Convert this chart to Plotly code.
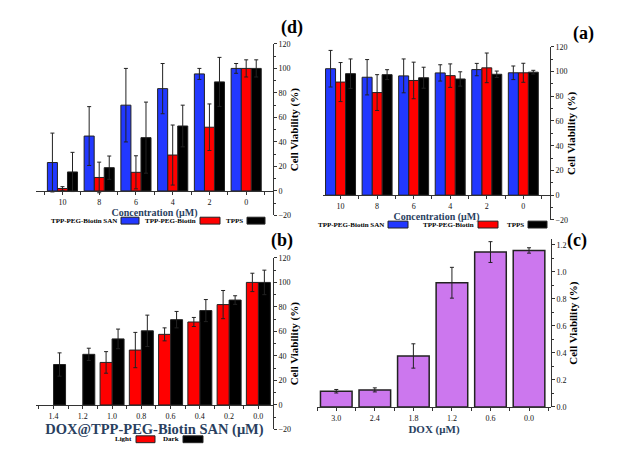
import plotly.graph_objects as go

# === Data ===
conc_labels = ["0", "2", "4", "6", "8", "10"]

# panel top-left
tl_tpps = [100, 89, 53, 43.5, 19, 15.5]
tl_tpps_err = [7, 20, 17, 29, 9.5, 16]
tl_peg = [100, 52, 29.3, 15.2, 11, 2]
tl_peg_err = [7, 19, 24.5, 13.5, 12.5, 1.5]
tl_san = [100, 95.5, 83.5, 70, 44.8, 23.2]
tl_san_err = [4, 4.5, 20.5, 30, 24, 24]

# panel top-right
tr_tpps = [99.5, 97.8, 94, 95, 97.5, 98.3]
tr_tpps_err = [1.5, 2.6, 5.8, 8.5, 4, 11.9]
tr_peg = [99, 103, 96.7, 92.8, 83, 91.5]
tr_peg_err = [7.7, 12, 9.5, 14.8, 14.5, 15.8]
tr_san = [99, 101.6, 98.9, 96.5, 95.4, 102.3]
tr_san_err = [5.5, 5, 6.6, 13.7, 14.3, 14.8]

# panel bottom-left
san_dose_labels = ["0.0", "0.2", "0.4", "0.6", "0.8", "1.0", "1.2", "1.4"]
dark = [100, 85.6, 77, 69.6, 60.5, 53.9, 41.3, 33]
dark_err = [10, 3.5, 9, 6.7, 12.8, 8, 5, 9.5]
light = [100, 81.9, 67.7, 57.6, 44.8, 34.7, None, None]
light_err = [7.5, 11.5, 3.7, 5.3, 14.4, 8.8, 0, 0]

# panel bottom-right
dox_labels = ["0.0", "0.6", "1.2", "1.8", "2.4", "3.0"]
dox = [1.158, 1.146, 0.919, 0.377, 0.126, 0.116]
dox_err = [0.02, 0.077, 0.114, 0.09, 0.015, 0.013]

W, H = 631, 457
FONT = "Liberation Serif"
BLUE, RED, BLACK, VIOLET = "#2238ff", "#ff0000", "#000000", "#cc77ee"


def px_x(v):
    return v / W


def px_y(v):
    return 1 - v / H


fig = go.Figure()


def add_bars(xa, ya, values, errs, color, name, width=1):
    fig.add_trace(go.Bar(
        x=list(range(len(values))), y=values,
        error_y=dict(type="data", array=errs, color="#222", thickness=1, width=2),
        marker=dict(color=color, line=dict(color="#222", width=width)),
        name=name, xaxis=xa, yaxis=ya, showlegend=False,
    ))


add_bars("x", "y", tl_tpps, tl_tpps_err, BLACK, "TPPS")
add_bars("x", "y", tl_peg, tl_peg_err, RED, "TPP-PEG-Biotin")
add_bars("x", "y", tl_san, tl_san_err, BLUE, "TPP-PEG-Biotin SAN")

add_bars("x2", "y2", tr_tpps, tr_tpps_err, BLACK, "TPPS")
add_bars("x2", "y2", tr_peg, tr_peg_err, RED, "TPP-PEG-Biotin")
add_bars("x2", "y2", tr_san, tr_san_err, BLUE, "TPP-PEG-Biotin SAN")

add_bars("x3", "y3", dark, dark_err, BLACK, "Dark")
add_bars("x3", "y3", light, light_err, RED, "Light")

add_bars("x4", "y4", dox, dox_err, VIOLET, "DOX", width=1.5)

# === Axes (figure is mirrored: x reversed, y on the right) ===
tick_font = dict(family=FONT, size=8, color="#111")
title_font = dict(family=FONT, size=11, color="#000")

panels = [
    # x px range, y px for (ymin, ymax), y range, labels, x range, title, title size
    ((36, 273), (215.7, 40.7), [-20, 120], conc_labels, [5.72, -0.73],
     "<b>Concentration (μM)</b>", 10),
    ((323, 550), (220.2, 43.7), [-20, 120], conc_labels, [5.48, -0.73],
     "<b>Concentration (μM)</b>", 10),
    ((36, 273), (434, 259), [-20, 120], san_dose_labels, [7.6, -0.5],
     "<b>DOX@TPP-PEG-Biotin SAN (μM)</b>", 14.5),
    ((317, 551), (411, 240.1), [0, 1.24], dox_labels, [5.5, -0.57],
     "<b>DOX (μM)</b>", 11),
]

layout_axes = {}
for i, (xr, yr, yrange, labels, xrange_, xtitle, xtsize) in enumerate(panels):
    sfx = "" if i == 0 else str(i + 1)
    ydom = [px_y(yr[0]), px_y(yr[1])]
    zero_frac = (0 - yrange[0]) / (yrange[1] - yrange[0])
    layout_axes["xaxis" + sfx] = dict(
        domain=[px_x(xr[0]), px_x(xr[1])], range=xrange_,
        anchor="free", position=ydom[0] + zero_frac * (ydom[1] - ydom[0]),
        tickvals=list(range(len(labels))), ticktext=labels,
        ticks="outside", ticklen=3, tickcolor="#333",
        minor=dict(tick0=0.5, dtick=1, ticks="outside", ticklen=3, tickcolor="#333"),
        showline=True, linecolor="#333", linewidth=1,
        showgrid=False, zeroline=False, tickfont=tick_font,
        title=dict(text=xtitle, font=dict(family=FONT, size=xtsize), standoff=2),
    )
    if yrange[1] > 2:
        dt, mdt, fmt = 20, 10, "d"
    else:
        dt, mdt, fmt = 0.2, 0.1, ".1f"
    layout_axes["yaxis" + sfx] = dict(
        domain=ydom, range=yrange, side="right", anchor="x" + sfx,
        dtick=dt, tick0=0, tickformat=fmt,
        ticks="outside", ticklen=3, tickcolor="#333",
        minor=dict(dtick=mdt, ticks="outside", ticklen=2, tickcolor="#333"),
        showline=True, linecolor="#333", linewidth=1,
        showgrid=False, zeroline=False, tickfont=tick_font,
        title=dict(text="<b>Cell Viability (%)</b>", font=title_font, standoff=0),
    )

fig.update_layout(**layout_axes)

# === Legends drawn as in the mirrored picture: text, then box ===
legend_rows = [
    # y px, [(name, color, box left px, box right px)]
    (221, [("TPP-PEG-Biotin SAN", BLUE, 121, 139),
           ("TPP-PEG-Biotin", RED, 200, 220),
           ("TPPS", BLACK, 247, 265)]),
    (225, [("TPP-PEG-Biotin SAN", BLUE, 388, 408),
           ("TPP-PEG-Biotin", RED, 478, 498),
           ("TPPS", BLACK, 528, 547)]),
    (444, [("Light", RED, 136, 155),
           ("Dark", BLACK, 183, 203)]),
]
for ypx, items in legend_rows:
    for name, color, x0, x1 in items:
        fig.add_shape(type="rect", xref="paper", yref="paper",
                      x0=px_x(x0), x1=px_x(x1), y0=px_y(ypx + 3.5), y1=px_y(ypx - 3.5),
                      fillcolor=color, line=dict(color="#222", width=1))
        fig.add_annotation(text=f"<b>{name}</b>", x=px_x(x0 - 2), y=px_y(ypx),
                           xref="paper", yref="paper", xanchor="right", yanchor="middle",
                           showarrow=False, font=dict(family=FONT, size=7, color="#000"))

# panel letters (as they appear in the mirrored picture)
for txt, x, y in [("(d)", 292, 24), ("(a)", 583, 30), ("(b)", 282, 241), ("(c)", 577, 241)]:
    fig.add_annotation(text=f"<b>{txt}</b>", x=px_x(x), y=px_y(y), xref="paper", yref="paper",
                       xanchor="center", yanchor="middle",
                       showarrow=False, font=dict(family=FONT, size=18, color="#000"))

fig.update_layout(
    width=W, height=H, margin=dict(l=0, r=0, t=0, b=0),
    paper_bgcolor="white", plot_bgcolor="white",
    barmode="group", bargap=0.18, bargroupgap=0,
    font=dict(family=FONT),
)

fig.write_html("out.html", config={"displayModeBar": False},
               post_script="document.body.style.margin='0px';")
